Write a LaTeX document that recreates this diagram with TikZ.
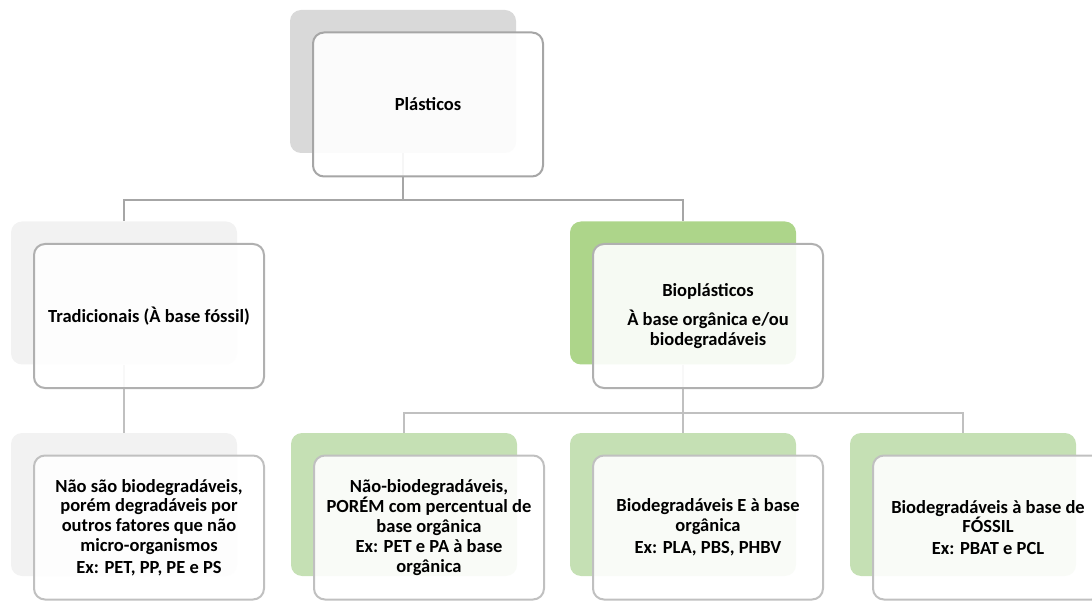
\documentclass[tikz,border=0pt]{standalone}
\usepackage{fontspec}
\setmainfont{Carlito}
\usepackage{tikz}
\definecolor{backgray}{HTML}{D9D9D9}
\definecolor{palegray}{HTML}{F2F2F2}
\definecolor{leafgreen}{HTML}{ADD58A}
\definecolor{palegreen}{HTML}{C5E0B4}
\definecolor{edgedark}{HTML}{A6A6A6}
\definecolor{edgemid}{HTML}{B0B0B0}
\definecolor{edgelight}{HTML}{C0C0C0}
\tikzset{
  backbox/.style={rounded corners=11pt,minimum width=226pt,minimum height=143pt,inner sep=0pt},
  frontbox/.style={rounded corners=11pt,minimum width=230pt,minimum height=144pt,inner sep=0pt,
    fill=white,fill opacity=.9,text opacity=1,line width=2pt,align=center,
    font=\fontsize{18.5}{19.8}\selectfont\bfseries},
  link/.style={line width=2pt},
}

\begin{document}
\begin{tikzpicture}[x=1pt,y=-1pt]
  \clip (0,0) rectangle (1092,601);

  % back cards
  \node[backbox,fill=backgray] (plastb) at (403,81.5) {};
  \node[backbox,fill=palegray] (tradb) at (124,293) {};
  \node[backbox,fill=leafgreen] (biob) at (683,293) {};
  \node[backbox,fill=palegray] (naob) at (124,504.5) {};
  \node[backbox,fill=palegreen] (renb) at (404,504.5) {};
  \node[backbox,fill=palegreen] (bdob) at (683,504.5) {};
  \node[backbox,fill=palegreen] (bdfb) at (963,504.5) {};

  % tree links
  \draw[link,draw=edgedark] (plastb.south) -- ++(0,47) -| (tradb.north);
  \draw[link,draw=edgedark] (plastb.south) -- ++(0,47) -| (biob.north);
  \draw[link,draw=edgelight] (tradb.south) -- (naob.north);
  \foreach \k in {renb,bdob,bdfb}
    \draw[link,draw=edgelight] (biob.south) -- ++(0,48) -| (\k.north);

  % front cards
  \node[frontbox,draw=edgedark] (plast) at ([shift={(25,23)}]plastb.center) {Plásticos};
  \node[frontbox,draw=edgemid] (trad) at ([shift={(25,23)}]tradb.center) {Tradicionais (À base fóssil)};
  \node[frontbox,draw=edgemid] (bio) at ([shift={(25,23)}]biob.center)
    {Bioplásticos\\[9pt]À base orgânica e/ou\\biodegradáveis};
  \node[frontbox,draw=edgelight] (nao) at ([shift={(25,23)}]naob.center)
    {Não são biodegradáveis,\\porém degradáveis por\\outros fatores que não\\micro-organismos\\[2pt]Ex: PET, PP, PE e PS};
  \node[frontbox,draw=edgelight] (ren) at ([shift={(25,23)}]renb.center)
    {Não-biodegradáveis,\\PORÉM com percentual de\\base orgânica\\Ex: PET e PA à base\\orgânica};
  \node[frontbox,draw=edgelight] (bdo) at ([shift={(25,23)}]bdob.center)
    {Biodegradáveis E à base\\orgânica\\[2pt]Ex: PLA, PBS, PHBV};
  \node[frontbox,draw=edgelight] (bdf) at ([shift={(25,23)}]bdfb.center)
    {Biodegradáveis à base de\\FÓSSIL\\[2pt]Ex: PBAT e PCL};
\end{tikzpicture}
\end{document}
